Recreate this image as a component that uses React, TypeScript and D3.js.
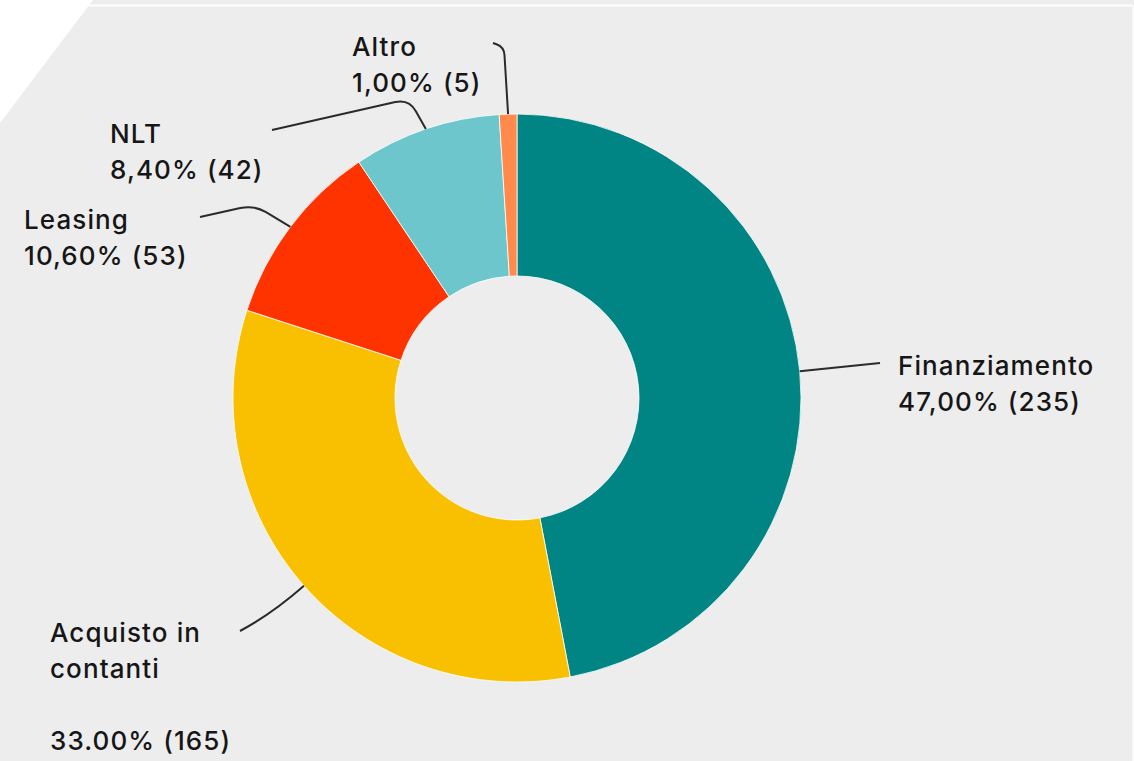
import React from "react";
import * as d3 from "d3";

// ---- data ----
const categories = ["Finanziamento", "Acquisto in contanti", "Leasing", "NLT", "Altro"];
const counts = [235, 165, 53, 42, 5];
const percentLabels = ["47,00%", "33.00%", "10,60%", "8,40%", "1,00%"];
const nameLines = [["Finanziamento"], ["Acquisto in", "contanti", ""], ["Leasing"], ["NLT"], ["Altro"]];
const colors = ["#008584", "#f8c000", "#ff3300", "#6cc6cb", "#ff8a4c"];

// ---- layout ----
const W = 1134;
const H = 761;
const CX = 517;
const CY = 398;
const R_OUT = 284;
const R_IN = 122;
const LINE_H = 36;
const labelPos = [
  { x: 898, y: 375 },
  { x: 50, y: 642 },
  { x: 24, y: 229 },
  { x: 110, y: 143 },
  { x: 352, y: 56 },
];
// connector: end point near label, optional elbow
const connectors: { end: [number, number]; elbow?: [number, number]; r?: number; curve?: [number, number] }[] = [
  { end: [880, 363] },
  { end: [240, 631], curve: [272, 614] },
  { end: [200, 217], elbow: [254, 205], r: 14 },
  { end: [272, 130], elbow: [409, 99], r: 14 },
  { end: [493, 43], elbow: [504, 47], r: 8 },
];

function connectorPath(start: [number, number], c: (typeof connectors)[number]) {
  const p = d3.path();
  p.moveTo(c.end[0], c.end[1]);
  if (c.curve) {
    p.quadraticCurveTo(c.curve[0], c.curve[1], start[0], start[1]);
  } else if (c.elbow) {
    const [ex, ey] = c.elbow;
    const r = c.r ?? 10;
    const d1 = Math.hypot(ex - c.end[0], ey - c.end[1]);
    const d2 = Math.hypot(start[0] - ex, start[1] - ey);
    const a: [number, number] = [ex - ((ex - c.end[0]) / d1) * r, ey - ((ey - c.end[1]) / d1) * r];
    const b: [number, number] = [ex + ((start[0] - ex) / d2) * r, ey + ((start[1] - ey) / d2) * r];
    p.lineTo(a[0], a[1]);
    p.quadraticCurveTo(ex, ey, b[0], b[1]);
    p.lineTo(start[0], start[1]);
  } else {
    p.lineTo(start[0], start[1]);
  }
  return p.toString();
}

export default function App() {
  const pie = d3
    .pie<number>()
    .sort(null)
    .value((d) => d)
    .startAngle(0)
    .endAngle(2 * Math.PI);
  const arcs = pie(counts);
  const arc = d3.arc<d3.PieArcDatum<number>>().innerRadius(R_IN).outerRadius(R_OUT);

  const font = "Inter, Roboto, sans-serif";

  return (
    <svg
      width={W}
      height={H}
      style={{ position: "fixed", left: 0, top: 0, display: "block" }}
      viewBox={`0 0 ${W} ${H}`}
    >
      <rect x={0} y={0} width={W} height={H} fill="#ededed" />
      <polygon points={`0,0 93,0 0,123`} fill="#ffffff" />
      <line x1={89} y1={5.5} x2={1132} y2={5.5} stroke="#ffffff" strokeWidth={2} />
      <line x1={1133} y1={5} x2={1133} y2={H} stroke="#f8f8f8" strokeWidth={2} />

      <g transform={`translate(${CX},${CY})`}>
        {arcs.map((a, i) => (
          <path key={categories[i]} d={arc(a) || ""} fill={colors[i]} stroke="#ffffff" strokeWidth={0.8} />
        ))}
      </g>

      {arcs.map((a, i) => {
        const mid = (a.startAngle + a.endAngle) / 2;
        const start: [number, number] = [CX + R_OUT * Math.sin(mid), CY - R_OUT * Math.cos(mid)];
        return (
          <path
            key={"c" + i}
            d={connectorPath(start, connectors[i])}
            fill="none"
            stroke="#2b2b2b"
            strokeWidth={2}
          />
        );
      })}

      {categories.map((c, i) => {
        const lines = [...nameLines[i], `${percentLabels[i]} (${counts[i]})`];
        return (
          <text
            key={"t" + i}
            x={labelPos[i].x}
            y={labelPos[i].y}
            fontFamily={font}
            fontWeight={500}
            fontSize={26}
            letterSpacing={1.1}
            fill="#161616"
          >
            {lines.map((l, j) => (
              <tspan key={j} x={labelPos[i].x} y={labelPos[i].y + j * LINE_H}>
                {l}
              </tspan>
            ))}
          </text>
        );
      })}
    </svg>
  );
}
